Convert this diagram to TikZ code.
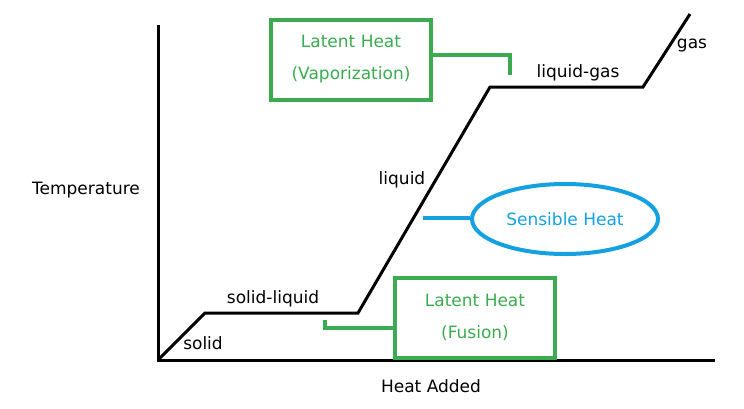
\documentclass[tikz,border=0pt]{standalone}
\usepackage{fontspec}
\setmainfont{DejaVu Sans}
\usetikzlibrary{shapes.geometric}
\definecolor{lgreen}{RGB}{60,170,80}
\definecolor{lblue}{RGB}{20,160,225}
\begin{document}
\begin{tikzpicture}[x=1pt,y=-1pt,
  lbl/.style={font=\fontsize{17}{19}\selectfont,inner sep=1pt},
  gbox/.style={draw=lgreen,line width=4pt,minimum width=160pt,minimum height=80pt,align=center,text=lgreen,font=\fontsize{17}{32}\selectfont},
  gline/.style={draw=lgreen,line width=4pt},
  curve/.style={line width=3pt}]
\useasboundingbox (0,0) rectangle (744,408);
\coordinate (top) at (158,25);
\coordinate (o) at (158,360);
\coordinate (xend) at (715,360);
\draw[curve] (top) -- (o) -- (xend);
\coordinate (p1) at (205,313);
\coordinate (p2) at (358,313);
\coordinate (p3) at (490,87);
\coordinate (p4) at (643,87);
\coordinate (p5) at (690,14);
\draw[curve] (o) -- (p1) -- (p2) -- (p3) -- (p4) -- (p5);
\node[lbl] (temp) at (86,190) {Temperature};
\node[lbl] (heat) at (431,386) {Heat Added};
\node[lbl] (solid) at (203,343) {solid};
\node[lbl] (sl) at (273,299) {solid-liquid};
\node[lbl] (liq) at (402,180) {liquid};
\node[lbl] (lg) at (578,73) {liquid-gas};
\node[lbl] (gas) at (692,46) {gas};
\node[gbox] (vap) at (351,59.5) {Latent Heat\\(Vaporization)};
\node[gbox] (fus) at (475,317.5) {Latent Heat\\(Fusion)};
\node[ellipse,draw=lblue,line width=4pt,minimum width=186pt,minimum height=70pt,text=lblue,font=\fontsize{17}{19}\selectfont] (sens) at (565,219) {Sensible Heat};
\coordinate (v1) at (510,55);
\coordinate (v2) at (510,75);
\draw[gline] (vap.east |- v1) -- (v1) -- (v2);
\coordinate (f1) at (325,320);
\coordinate (f2) at (325,328);
\draw[gline] (f1) -- (f2) -- (fus.west |- f2);
\coordinate (s1) at (423,218);
\draw[draw=lblue,line width=4pt] (s1) -- (sens.west |- s1);
\end{tikzpicture}
\end{document}
